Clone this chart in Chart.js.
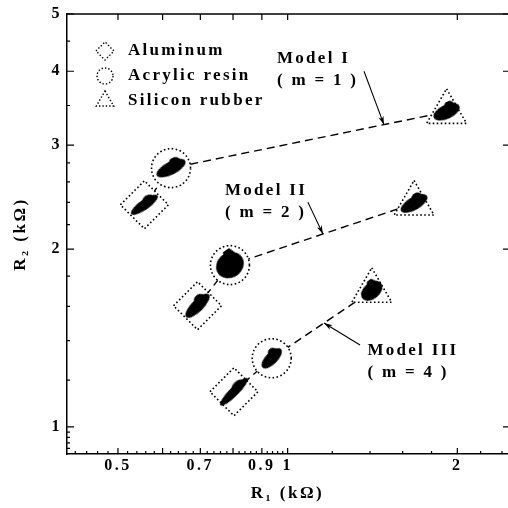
<!DOCTYPE html>
<html>
<head>
<meta charset="utf-8">
<script src="https://cdn.jsdelivr.net/npm/chart.js@4.4.1/dist/chart.umd.min.js"></script>
<style>
html, body { margin: 0; padding: 0; background: #fff; }
canvas { display: block; }
</style>
</head>
<body>
<canvas id="c" width="508" height="508"></canvas>
<script>
// ---------------- data ----------------
const materials = ['Aluminum', 'Acrylic resin', 'Silicon rubber'];
const models = ['Model I', 'Model II', 'Model III'];
const modelM = ['m = 1', 'm = 2', 'm = 4'];
// R1, R2 in kΩ for Model I, II, III
const aluminumR1 = [0.557, 0.692, 0.803];
const aluminumR2 = [2.377, 1.604, 1.147];
const acrylicR1  = [0.621, 0.790, 0.937];
const acrylicR2  = [2.742, 1.879, 1.307];
const siliconR1  = [1.914, 1.676, 1.410];
const siliconR2  = [3.415, 2.389, 1.700];
// axes
const xTickLabels = [0.5, 0.7, 0.9, 1, 2];
const yTickLabels = [1, 2, 3, 4, 5];
const xMajorTicks = [0.5, 0.6, 0.7, 0.8, 0.9, 1, 2];
const xMinorTicks = [0.42, 0.44, 0.46, 0.48, 0.52, 0.54, 0.56, 0.58, 0.62, 0.64, 0.66, 0.68,
                     0.72, 0.74, 0.76, 0.78, 0.82, 0.84, 0.86, 0.88, 0.92, 0.94, 0.96, 0.98,
                     1.2, 1.4, 1.6, 1.8, 2.2, 2.4];
const yMajorTicks = [1, 2, 3, 4, 5];
const yMinorTicks = [0.92, 0.94, 0.96, 0.98, 1.2, 1.4, 1.6, 1.8, 2.2, 2.4, 2.6, 2.8, 3.5, 4.5];
const xRange = [0.406, 2.46];
const yRange = [0.9, 5];

// ---------------- styles ----------------
const SERIF = '"Liberation Serif", "Times New Roman", "DejaVu Serif", serif';
const shapeStyles = [
  {style: 'rectRot', r: 24, legendR: 9},
  {style: 'circle', r: 19.5, legendR: 8},
  {style: 'triangle', r: 23, legendR: 10}
];
// blob [width, height, rotation] per material per model
const blobStyles = [
  [[32, 10, -35], [32, 12, -45], [38, 9, -45]],
  [[32, 13, -27], [29, 25, -35], [26, 12, -45]],
  [[28, 14, -25], [30, 13, -30], [24, 16, -40]]
];
// annotation placement (in data units)
const annotations = [
  {textR1: 0.957, textR2: 4.21, tailR1: 1.366, tailR2: 4.00, headR1: 1.482},
  {textR1: 0.774, textR2: 2.516, tailR1: 1.086, tailR2: 2.402, headR1: 1.155},
  {textR1: 1.385, textR2: 1.345, tailR1: 1.344, tailR2: 1.376, headR1: 1.160}
];

function makeBlob(w, h) {
  const c = document.createElement('canvas');
  c.width = w + 4; c.height = h + 4;
  const g = c.getContext('2d');
  g.fillStyle = '#000';
  g.beginPath();
  g.ellipse(c.width / 2, c.height / 2, w / 2, h / 2, 0, 0, Math.PI * 2);
  g.fill();
  g.beginPath();
  g.ellipse(c.width / 2 + w * 0.18, c.height / 2 - h * 0.12, w * 0.22, h * 0.55, 0, 0, Math.PI * 2);
  g.fill();
  return c;
}

const matR1 = [aluminumR1, acrylicR1, siliconR1];
const matR2 = [aluminumR2, acrylicR2, siliconR2];
const blobCanvases = blobStyles.map(row => row.map(b => makeBlob(b[0], b[1])));

const lineDatasets = models.map((m, i) => ({
  label: m,
  data: [
    {x: aluminumR1[i], y: aluminumR2[i]},
    {x: acrylicR1[i], y: acrylicR2[i]},
    {x: siliconR1[i], y: siliconR2[i]}
  ],
  showLine: true,
  borderColor: '#000',
  borderWidth: 1.4,
  borderDash: [8, 5],
  pointRadius: 0,
  fill: false,
  order: 3
}));

const shapeDatasets = materials.map((name, k) => ({
  label: name,
  data: matR1[k].map((v, i) => ({x: v, y: matR2[k][i]})),
  pointStyle: shapeStyles[k].style,
  pointRadius: shapeStyles[k].r,
  pointBackgroundColor: '#fff',
  pointBorderColor: '#000',
  pointBorderWidth: 1.6,
  _dotted: true,
  order: 2
}));

const blobDatasets = materials.map((name, k) => ({
  label: name + ' data',
  data: matR1[k].map((v, i) => ({x: v, y: matR2[k][i]})),
  pointStyle: (c) => blobCanvases[k][c.dataIndex || 0],
  pointRotation: (c) => blobStyles[k][c.dataIndex || 0][2],
  pointRadius: 10,
  order: 1
}));

// ---------------- plugins ----------------
const spacingPlugin = {
  id: 'spacing',
  beforeDraw(chart) { chart.ctx.letterSpacing = '2.5px'; }
};

const dottedPlugin = {
  id: 'dotted',
  beforeDatasetDraw(chart, args) {
    if (chart.data.datasets[args.index]._dotted) {
      chart.ctx.setLineDash([1.6, 2.4]);
    }
  },
  afterDatasetDraw(chart) { chart.ctx.setLineDash([]); }
};

const axisDecor = {
  id: 'axisDecor',
  afterDraw(chart) {
    const {ctx, chartArea: a, scales: {x, y}} = chart;
    ctx.save();
    ctx.setLineDash([]);
    ctx.strokeStyle = '#000';
    ctx.lineWidth = 1.4;
    ctx.beginPath();
    ctx.moveTo(a.left, a.top); ctx.lineTo(a.right, a.top);
    ctx.stroke();
    ctx.lineWidth = 1.2;
    ctx.beginPath();
    const seg = (x1, y1, x2, y2) => { ctx.moveTo(x1, y1); ctx.lineTo(x2, y2); };
    xMajorTicks.forEach(v => {
      const p = x.getPixelForValue(v);
      seg(p, a.bottom, p, a.bottom - 6);
      seg(p, a.top, p, a.top + 6);
    });
    xMinorTicks.forEach(v => {
      const p = x.getPixelForValue(v);
      seg(p, a.bottom, p, a.bottom - 3);
    });
    yMajorTicks.forEach(v => {
      const p = y.getPixelForValue(v);
      seg(a.left, p, a.left + 7, p);
      seg(a.right, p, a.right - 5, p);
    });
    yMinorTicks.forEach(v => {
      const p = y.getPixelForValue(v);
      seg(a.left, p, a.left + 3, p);
    });
    ctx.stroke();
    ctx.restore();
  }
};

const textPlugin = {
  id: 'texts',
  afterDraw(chart) {
    const {ctx, chartArea: a, scales: {x, y}} = chart;
    ctx.save();
    ctx.letterSpacing = '2.3px';
    ctx.font = 'bold 17px ' + SERIF;
    ctx.textBaseline = 'middle';
    ctx.textAlign = 'left';
    // legend
    materials.forEach((name, k) => {
      const cy = a.top + 37 + k * 25;
      const cx = a.left + 38;
      ctx.setLineDash([1.4, 2]);
      ctx.lineWidth = 1.4;
      ctx.strokeStyle = '#000';
      ctx.fillStyle = '#fff';
      Chart.helpers.drawPoint(ctx, {pointStyle: shapeStyles[k].style, radius: shapeStyles[k].legendR, rotation: 0, borderWidth: 1.4}, cx, cy);
      ctx.setLineDash([]);
      ctx.fillStyle = '#000';
      ctx.fillText(name, a.left + 61, cy);
    });
    // annotations
    annotations.forEach((an, i) => {
      const tx = x.getPixelForValue(an.textR1);
      const ty = y.getPixelForValue(an.textR2);
      ctx.fillStyle = '#000';
      ctx.fillText(models[i], tx, ty);
      ctx.fillText('( ' + modelM[i] + ' )', tx, ty + 22);
      const ax = x.getPixelForValue(acrylicR1[i]), ay = y.getPixelForValue(acrylicR2[i]);
      const sx = x.getPixelForValue(siliconR1[i]), sy = y.getPixelForValue(siliconR2[i]);
      const hx = x.getPixelForValue(an.headR1);
      const hy = ay + (sy - ay) * (hx - ax) / (sx - ax);
      const fx = x.getPixelForValue(an.tailR1), fy = y.getPixelForValue(an.tailR2);
      ctx.strokeStyle = '#000';
      ctx.lineWidth = 1.1;
      ctx.beginPath(); ctx.moveTo(fx, fy); ctx.lineTo(hx, hy); ctx.stroke();
      const ang = Math.atan2(hy - fy, hx - fx);
      ctx.beginPath();
      ctx.moveTo(hx, hy);
      ctx.lineTo(hx - 9 * Math.cos(ang - 0.3), hy - 9 * Math.sin(ang - 0.3));
      ctx.lineTo(hx - 6 * Math.cos(ang), hy - 6 * Math.sin(ang));
      ctx.lineTo(hx - 9 * Math.cos(ang + 0.3), hy - 9 * Math.sin(ang + 0.3));
      ctx.closePath();
      ctx.fill();
    });
    ctx.restore();
  }
};

const tickFont = {family: SERIF, size: 16, weight: 'bold'};
const titleFont = {family: SERIF, size: 17, weight: 'bold'};

new Chart(document.getElementById('c'), {
  type: 'scatter',
  data: {datasets: [...blobDatasets, ...shapeDatasets, ...lineDatasets]},
  options: {
    responsive: false,
    animation: false,
    events: [],
    layout: {autoPadding: false, padding: {top: 14, right: 0, left: 0, bottom: 0}},
    plugins: {legend: {display: false}, tooltip: {enabled: false}},
    scales: {
      x: {
        type: 'logarithmic',
        position: 'bottom',
        min: xRange[0], max: xRange[1],
        grid: {display: false, drawTicks: false},
        border: {display: true, color: '#000', width: 1.5},
        afterBuildTicks: (s) => { s.ticks = xTickLabels.map(v => ({value: v})); },
        afterFit: (s) => { s.height = 54; s.paddingLeft = 0; s.paddingRight = 0; },
        ticks: {
          color: '#000', font: tickFont, padding: 2, autoSkip: false, maxRotation: 0,
          callback: (v) => String(v)
        },
        title: {display: true, text: 'R\u2081 (k\u03A9)', color: '#000', font: titleFont, padding: {top: 0, bottom: 4}}
      },
      y: {
        type: 'logarithmic',
        position: 'left',
        min: yRange[0], max: yRange[1],
        grid: {display: false, drawTicks: false},
        border: {display: true, color: '#000', width: 1.5},
        afterBuildTicks: (s) => { s.ticks = yTickLabels.map(v => ({value: v})); },
        afterFit: (s) => { s.width = 67; s.paddingTop = 0; s.paddingBottom = 0; },
        ticks: {
          color: '#000', font: tickFont, padding: 5, autoSkip: false,
          callback: (v) => String(v)
        },
        title: {display: true, text: 'R\u2082 (k\u03A9)', color: '#000', font: titleFont, padding: {top: 10, bottom: 0}}
      }
    }
  },
  plugins: [spacingPlugin, dottedPlugin, axisDecor, textPlugin]
});
</script>
</body>
</html>
